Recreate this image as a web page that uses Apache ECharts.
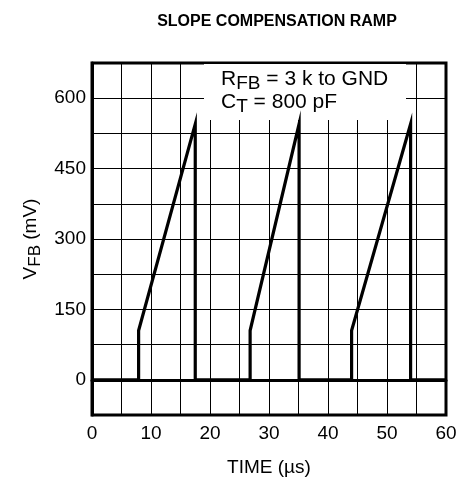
<!DOCTYPE html>
<html>
<head>
<meta charset="utf-8">
<script src="https://cdn.jsdelivr.net/npm/echarts@6/dist/echarts.min.js"></script>
<style>
html,body{margin:0;padding:0;background:#fff;}
#chart{width:463px;height:487px;}
</style>
</head>
<body>
<div id="chart"></div>
<script>
// Data
const timeUs = [0, 7.9, 7.9, 17.5, 17.5, 26.8, 26.8, 35.1, 35.1, 44.0, 44.0, 54.0, 54.0, 60];
const vfbMv  = [0, 0, 105, 545, 0, 0, 105, 545, 0, 0, 105, 545, 0, 0];
const xTickLabels = [0, 10, 20, 30, 40, 50, 60];
const yTickLabels = [0, 150, 300, 450, 600];

const FONT = '"Liberation Sans", Arial, sans-serif';
const chart = echarts.init(document.getElementById('chart'), null, {renderer: 'canvas'});

const seriesData = timeUs.map((t, i) => [t, vfbMv[i]]);

chart.setOption({
  animation: false,
  backgroundColor: '#fff',
  title: {
    text: 'SLOPE COMPENSATION RAMP',
    left: 272, top: 9, textAlign: 'center',
    textStyle: {fontFamily: FONT, fontSize: 16, fontWeight: 'bold', color: '#000'}
  },
  grid: {
    left: 92, right: 17, top: 63, bottom: 72,
    show: true, borderColor: '#000', borderWidth: 3, backgroundColor: 'transparent'
  },
  xAxis: {
    type: 'value', min: 0, max: 60, interval: 5,
    name: 'TIME (µs)', nameLocation: 'middle', nameGap: 43,
    nameTextStyle: {fontFamily: FONT, fontSize: 19, color: '#000'},
    axisLine: {show: true, lineStyle: {color: '#000', width: 3}},
    axisTick: {show: false},
    axisLabel: {
      margin: 9, fontFamily: FONT, fontSize: 19, color: '#000',
      formatter: v => xTickLabels.includes(v) ? String(v) : ''
    },
    splitLine: {show: true, lineStyle: {color: '#000', width: 1}}
  },
  yAxis: {
    type: 'value', min: -75, max: 675, interval: 75,
    name: '{n|V}{s|FB}{n| (mV)}', nameLocation: 'middle', nameGap: 44, nameRotate: 90,
    nameTextStyle: {
      fontFamily: FONT, fontSize: 19, color: '#000',
      rich: {
        n: {fontFamily: FONT, fontSize: 19, color: '#000', lineHeight: 22},
        s: {fontFamily: FONT, fontSize: 17, color: '#000', lineHeight: 22, padding: [9, 0, 0, 0]}
      }
    },
    axisLine: {show: true, lineStyle: {color: '#000', width: 3}},
    axisTick: {show: false},
    axisLabel: {
      margin: 6, fontFamily: FONT, fontSize: 19, color: '#000',
      formatter: v => yTickLabels.includes(v) ? String(v) : ''
    },
    splitLine: {show: true, lineStyle: {color: '#000', width: 1}}
  },
  graphic: [
    {
      type: 'rect', z: 50,
      shape: {x: 204, y: 64, width: 202, height: 56},
      style: {fill: '#fff', stroke: null}
    },
    {
      type: 'text', z: 51, left: 221, top: 65,
      style: {
        text: '{n|R}{s|FB}{n| = 3 k to GND}\n{n|C}{s|T}{n| = 800 pF}',
        fontFamily: FONT, fill: '#000',
        rich: {
          n: {fontFamily: FONT, fontSize: 21, fill: '#000', lineHeight: 23},
          s: {fontFamily: FONT, fontSize: 19, fill: '#000', lineHeight: 23, padding: [9, 0, 0, 0]}
        }
      }
    }
  ],
  series: [{
    type: 'line', data: seriesData, showSymbol: false, symbol: 'none', z: 60,
    lineStyle: {color: '#000', width: 3.2, join: 'miter', cap: 'butt'},
    clip: false
  }]
});
</script>
</body>
</html>
